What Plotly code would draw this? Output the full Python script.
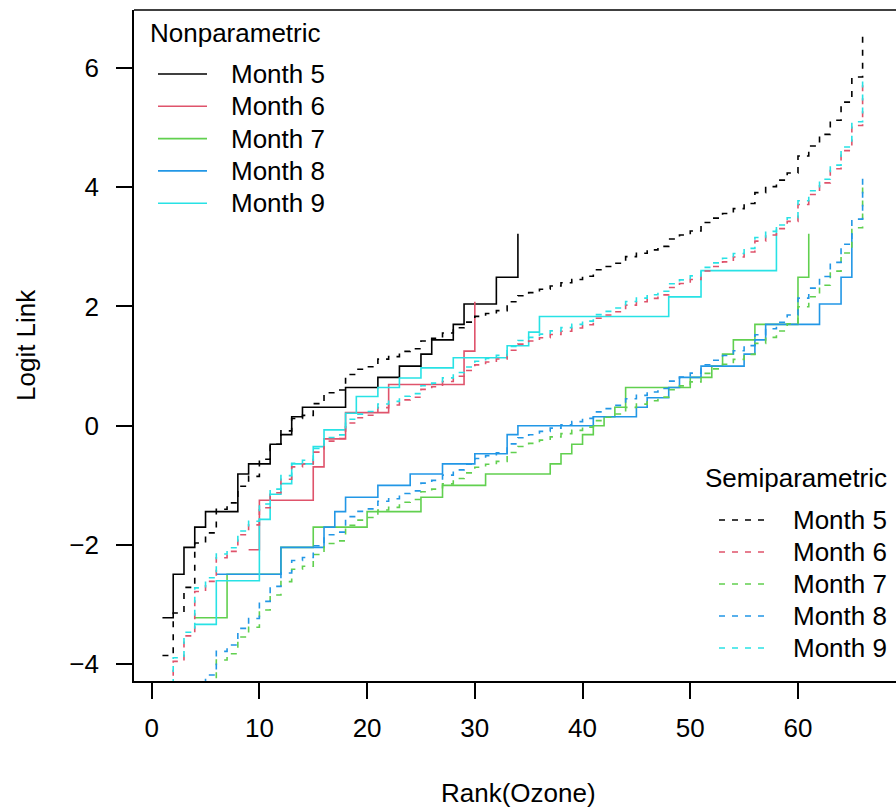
import plotly.graph_objects as go

months = ["Month 5", "Month 6", "Month 7", "Month 8", "Month 9"]
colors = ["#000000", "#DF536B", "#61D04F", "#2297E6", "#28E2E5"]

# Nonparametric: logit of the empirical CDF within each month, at rank(Ozone)
np_rank = {
    "Month 5": [1, 2, 3, 4, 5, 8, 9, 11, 12, 13, 14, 18, 21, 23, 25, 26, 28, 29, 32, 34],
    "Month 6": [9, 10, 15, 16, 18, 22, 29, 30],
    "Month 7": [4, 7, 12, 15, 20, 25, 27, 31, 37, 38, 39, 40, 41, 42, 43, 44, 50, 52, 53, 54, 56, 60, 61],
    "Month 8": [6, 12, 16, 17, 18, 21, 24, 27, 30, 33, 34, 41, 45, 46, 48, 49, 51, 55, 56, 57, 62, 64, 65],
    "Month 9": [4, 6, 10, 11, 12, 13, 15, 16, 18, 19, 21, 23, 25, 28, 33, 35, 36, 48, 51, 58],
}
np_logit = {
    "Month 5": [-3.22, -2.49, -2.04, -1.70, -1.44, -0.81, -0.64, -0.31, -0.15, 0.15, 0.31, 0.64, 0.81,
                1.00, 1.20, 1.44, 1.70, 2.04, 2.49, 3.22],
    "Month 6": [-2.08, -1.25, -0.69, -0.22, 0.22, 0.69, 1.25, 2.08],
    "Month 7": [-3.22, -2.49, -2.04, -1.70, -1.44, -1.20, -1.00, -0.81, -0.64, -0.47, -0.31, -0.15, 0.00,
                0.15, 0.31, 0.64, 0.81, 1.00, 1.20, 1.44, 1.70, 2.49, 3.22],
    "Month 8": [-2.49, -2.04, -1.70, -1.44, -1.20, -1.00, -0.81, -0.64, -0.47, -0.15, 0.00, 0.15, 0.31,
                0.47, 0.64, 0.81, 1.00, 1.20, 1.44, 1.70, 2.04, 2.49, 3.22],
    "Month 9": [-3.33, -2.60, -1.57, -1.15, -0.97, -0.64, -0.35, -0.07, 0.21, 0.49, 0.64, 0.80, 0.97,
                1.14, 1.34, 1.57, 1.83, 2.16, 2.60, 3.33],
}

# Semiparametric (proportional odds) curves: common intercepts at ranks 1..66 plus a month shift
semi_rank = list(range(1, 67))
semi_intercept = [
    -3.853, -3.139, -2.711, -1.967, -1.797, -1.400, -1.294, -1.015, -0.850, -0.562, -0.311,
    -0.086, 0.122, 0.173, 0.370, 0.554, 0.598, 0.859, 0.946, 0.989, 1.116, 1.159,
    1.246, 1.290, 1.421, 1.466, 1.554, 1.643, 1.737, 1.833, 1.881, 1.930, 2.079,
    2.180, 2.232, 2.287, 2.342, 2.396, 2.451, 2.505, 2.614, 2.669, 2.724, 2.835,
    2.891, 2.948, 3.007, 3.131, 3.197, 3.264, 3.406, 3.481, 3.559, 3.640, 3.725,
    3.908, 4.009, 4.117, 4.238, 4.522, 4.690, 4.884, 5.121, 5.425, 5.847, 6.557,
]
semi_shift = {"Month 5": 0.0, "Month 6": -0.8124, "Month 7": -2.5282, "Month 8": -2.3826, "Month 9": -0.7513}

x_ticks = [0, 10, 20, 30, 40, 50, 60]
y_ticks = [-4, -2, 0, 2, 4, 6]
y_ticklabels = ["\u22124", "\u22122", "0", "2", "4", "6"]

# ---------------- layout geometry (page pixels) ----------------
FONT = "Liberation Sans, Arial, Helvetica, sans-serif"
FS = 26
W, H = 896, 807
ML, MT, MB = 134, 10, 126
PW = W - ML            # plot width (right edge runs off the page, as in the reference)
PH = H - MT - MB       # 671


def px(xp):   # page x -> paper
    return (xp - ML) / PW


def py(yp):   # page y -> paper
    return (H - MB - yp) / PH


fig = go.Figure()
for m, c in zip(months, colors):
    fig.add_trace(go.Scatter(x=np_rank[m], y=np_logit[m], mode="lines", line_shape="hv",
                             line=dict(color=c, width=1.6), hoverinfo="skip", showlegend=False))
for m, c in zip(months, colors):
    fig.add_trace(go.Scatter(x=semi_rank, y=[v + semi_shift[m] for v in semi_intercept], mode="lines",
                             line_shape="hv", line=dict(color=c, width=1.6, dash="6px,7px"),
                             hoverinfo="skip", showlegend=False))

shapes = [dict(type="line", xref="paper", yref="paper", x0=0, x1=1, y0=1, y1=1,
               line=dict(color="black", width=1.6))]
ann = []
txtfont = dict(family=FONT, size=FS, color="black")
# Nonparametric legend
ann.append(dict(x=px(148), y=py(33), xref="paper", yref="paper", text="Nonparametric", showarrow=False,
                xanchor="left", yanchor="middle", font=txtfont))
for i, (m, c) in enumerate(zip(months, colors)):
    yy = 74 + i * 32.3
    shapes.append(dict(type="line", xref="paper", yref="paper", x0=px(158), x1=px(207), y0=py(yy), y1=py(yy),
                       line=dict(color=c, width=1.6)))
    ann.append(dict(x=px(229), y=py(yy), xref="paper", yref="paper", text=m, showarrow=False,
                    xanchor="left", yanchor="middle", font=txtfont))
# Semiparametric legend
ann.append(dict(x=px(703), y=py(478), xref="paper", yref="paper", text="Semiparametric", showarrow=False,
                xanchor="left", yanchor="middle", font=txtfont))
for i, (m, c) in enumerate(zip(months, colors)):
    yy = 520 + i * 32
    shapes.append(dict(type="line", xref="paper", yref="paper", x0=px(719), x1=px(768), y0=py(yy), y1=py(yy),
                       line=dict(color=c, width=1.6, dash="6px,7px")))
    ann.append(dict(x=px(791), y=py(yy), xref="paper", yref="paper", text=m, showarrow=False,
                    xanchor="left", yanchor="middle", font=txtfont))
# axis titles
ann.append(dict(x=px(518), y=py(793), xref="paper", yref="paper", text="Rank(Ozone)", showarrow=False,
                xanchor="center", yanchor="middle", font=txtfont))
ann.append(dict(x=px(26), y=py(345), xref="paper", yref="paper", text="Logit Link", showarrow=False,
                textangle=-90, xanchor="center", yanchor="middle", font=txtfont))

fig.update_layout(width=W, height=H, margin=dict(l=ML, r=0, t=MT, b=MB, pad=0),
                  plot_bgcolor="white", paper_bgcolor="white", showlegend=False,
                  shapes=shapes, annotations=ann, font=txtfont)
fig.update_xaxes(range=[-1.64, 69.10], tickvals=x_ticks, ticks="outside", ticklen=16, tickwidth=1.6,
                 tickcolor="black", showline=True, linecolor="black", linewidth=1.6, showgrid=False,
                 zeroline=False, ticklabelstandoff=7, tickfont=txtfont)
fig.update_yaxes(range=[-4.28, 6.97], tickvals=y_ticks, ticktext=y_ticklabels, ticks="outside", ticklen=16,
                 tickwidth=1.6, tickcolor="black", showline=True, linecolor="black", linewidth=1.6,
                 showgrid=False, zeroline=False, ticklabelstandoff=12, tickfont=txtfont)
fig.write_html("out.html", config={"displayModeBar": False},
               post_script="document.body.style.margin='0px';")
